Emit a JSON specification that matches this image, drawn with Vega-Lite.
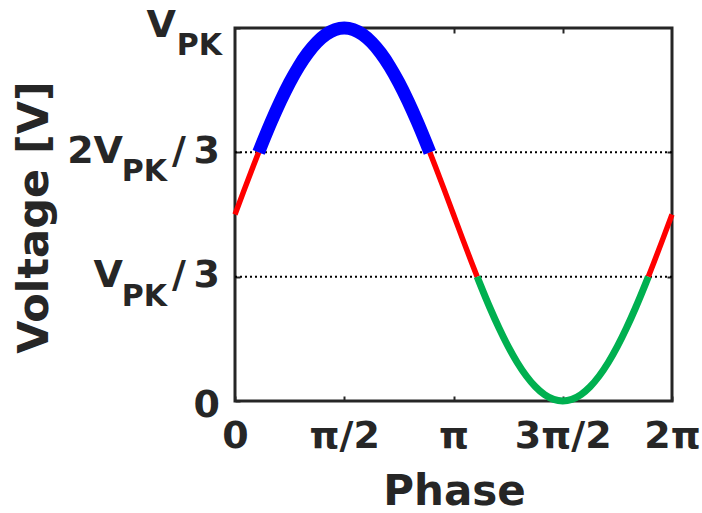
{
  "$schema": "https://vega.github.io/schema/vega-lite/v6.json",
  "width": 437,
  "height": 373,
  "autosize": {"type": "none"},
  "padding": {"left": 235, "top": 28, "right": 30, "bottom": 112},
  "background": "white",
  "config": {"view": {"stroke": "#262626", "strokeWidth": 3}, "font": "DejaVu Sans"},
  "datasets": {
    "curve": [
      {"phase": 0, "v": 0.5, "band": "mid", "seg": "r1"},
      {"phase": 7.5, "v": 0.5653, "band": "mid", "seg": "r1"},
      {"phase": 15, "v": 0.6294, "band": "mid", "seg": "r1"},
      {"phase": 19.47, "v": 0.6667, "band": "mid", "seg": "r1"},
      {"phase": 19.47, "v": 0.6667, "band": "high", "seg": "b"},
      {"phase": 22.5, "v": 0.6913, "band": "high", "seg": "b"},
      {"phase": 30, "v": 0.75, "band": "high", "seg": "b"},
      {"phase": 37.5, "v": 0.8044, "band": "high", "seg": "b"},
      {"phase": 45, "v": 0.8536, "band": "high", "seg": "b"},
      {"phase": 52.5, "v": 0.8967, "band": "high", "seg": "b"},
      {"phase": 60, "v": 0.933, "band": "high", "seg": "b"},
      {"phase": 67.5, "v": 0.9619, "band": "high", "seg": "b"},
      {"phase": 75, "v": 0.983, "band": "high", "seg": "b"},
      {"phase": 82.5, "v": 0.9957, "band": "high", "seg": "b"},
      {"phase": 90, "v": 1, "band": "high", "seg": "b"},
      {"phase": 97.5, "v": 0.9957, "band": "high", "seg": "b"},
      {"phase": 105, "v": 0.983, "band": "high", "seg": "b"},
      {"phase": 112.5, "v": 0.9619, "band": "high", "seg": "b"},
      {"phase": 120, "v": 0.933, "band": "high", "seg": "b"},
      {"phase": 127.5, "v": 0.8967, "band": "high", "seg": "b"},
      {"phase": 135, "v": 0.8536, "band": "high", "seg": "b"},
      {"phase": 142.5, "v": 0.8044, "band": "high", "seg": "b"},
      {"phase": 150, "v": 0.75, "band": "high", "seg": "b"},
      {"phase": 157.5, "v": 0.6913, "band": "high", "seg": "b"},
      {"phase": 160.53, "v": 0.6667, "band": "high", "seg": "b"},
      {"phase": 160.53, "v": 0.6667, "band": "mid", "seg": "r2"},
      {"phase": 165, "v": 0.6294, "band": "mid", "seg": "r2"},
      {"phase": 172.5, "v": 0.5653, "band": "mid", "seg": "r2"},
      {"phase": 180, "v": 0.5, "band": "mid", "seg": "r2"},
      {"phase": 187.5, "v": 0.4347, "band": "mid", "seg": "r2"},
      {"phase": 195, "v": 0.3706, "band": "mid", "seg": "r2"},
      {"phase": 199.47, "v": 0.3333, "band": "mid", "seg": "r2"},
      {"phase": 199.47, "v": 0.3333, "band": "low", "seg": "g"},
      {"phase": 202.5, "v": 0.3087, "band": "low", "seg": "g"},
      {"phase": 210, "v": 0.25, "band": "low", "seg": "g"},
      {"phase": 217.5, "v": 0.1956, "band": "low", "seg": "g"},
      {"phase": 225, "v": 0.1464, "band": "low", "seg": "g"},
      {"phase": 232.5, "v": 0.1033, "band": "low", "seg": "g"},
      {"phase": 240, "v": 0.067, "band": "low", "seg": "g"},
      {"phase": 247.5, "v": 0.0381, "band": "low", "seg": "g"},
      {"phase": 255, "v": 0.017, "band": "low", "seg": "g"},
      {"phase": 262.5, "v": 0.0043, "band": "low", "seg": "g"},
      {"phase": 270, "v": 0, "band": "low", "seg": "g"},
      {"phase": 277.5, "v": 0.0043, "band": "low", "seg": "g"},
      {"phase": 285, "v": 0.017, "band": "low", "seg": "g"},
      {"phase": 292.5, "v": 0.0381, "band": "low", "seg": "g"},
      {"phase": 300, "v": 0.067, "band": "low", "seg": "g"},
      {"phase": 307.5, "v": 0.1033, "band": "low", "seg": "g"},
      {"phase": 315, "v": 0.1464, "band": "low", "seg": "g"},
      {"phase": 322.5, "v": 0.1956, "band": "low", "seg": "g"},
      {"phase": 330, "v": 0.25, "band": "low", "seg": "g"},
      {"phase": 337.5, "v": 0.3087, "band": "low", "seg": "g"},
      {"phase": 340.53, "v": 0.3333, "band": "low", "seg": "g"},
      {"phase": 340.53, "v": 0.3333, "band": "mid", "seg": "r3"},
      {"phase": 345, "v": 0.3706, "band": "mid", "seg": "r3"},
      {"phase": 352.5, "v": 0.4347, "band": "mid", "seg": "r3"},
      {"phase": 360, "v": 0.5, "band": "mid", "seg": "r3"}
    ],
    "levels": [{"v": 0.3333}, {"v": 0.6667}],
    "ylabels": [
      {"v": 1, "kind": "peak", "main": "V", "sub": "PK", "tail": ""},
      {"v": 0.6667, "kind": "frac", "main": "2V", "sub": "PK", "tail": "/\u20093"},
      {"v": 0.3333, "kind": "frac", "main": "V", "sub": "PK", "tail": "/\u20093"},
      {"v": 0, "kind": "zero", "main": "0", "sub": "", "tail": ""}
    ]
  },
  "layer": [
    {
      "data": {"name": "levels"},
      "mark": {"type": "rule", "color": "black", "strokeWidth": 2, "strokeDash": [2, 3]},
      "encoding": {
        "y": {"field": "v", "type": "quantitative", "scale": {"domain": [0, 1], "nice": false, "zero": false}, "axis": null}
      }
    },
    {
      "data": {"name": "curve"},
      "transform": [{"filter": "datum.band == 'mid'"}],
      "mark": {"type": "line", "color": "#FF0000", "strokeWidth": 5.5, "interpolate": "monotone"},
      "encoding": {
        "x": {
          "field": "phase", "type": "quantitative",
          "scale": {"domain": [0, 360], "nice": false, "zero": false},
          "axis": {
            "orient": "bottom", "values": [0, 90, 180, 270, 360],
            "labelExpr": "datum.value == 0 ? '0' : datum.value == 90 ? 'π/2' : datum.value == 180 ? 'π' : datum.value == 270 ? '3π/2' : '2π'",
            "labelFont": "DejaVu Sans", "labelFontWeight": "bold", "labelFontSize": 38, "labelColor": "#262626",
            "labelFlush": false, "labelOverlap": false, "labelPadding": 21,
            "tickSize": -5, "tickColor": "#262626", "tickWidth": 2, "domain": false, "grid": false,
            "title": "Phase", "titleFont": "DejaVu Sans", "titleFontSize": 42, "titleFontWeight": "bold",
            "titleColor": "#262626", "titleBaseline": "alphabetic", "titleY": 103, "titleX": 219
          }
        },
        "y": {
          "field": "v", "type": "quantitative",
          "scale": {"domain": [0, 1], "nice": false, "zero": false},
          "axis": {
            "orient": "left", "values": [0, 0.3333, 0.6667, 1], "labels": false,
            "tickSize": -5, "tickColor": "#262626", "tickWidth": 2, "domain": false, "grid": false,
            "title": "Voltage [V]", "titleFont": "DejaVu Sans", "titleFontSize": 43, "titleFontWeight": "bold",
            "titleColor": "#262626", "titleAngle": 270, "titleBaseline": "alphabetic", "titleAlign": "center",
            "titleX": -188, "titleY": 189
          }
        },
        "detail": {"field": "seg"}
      }
    },
    {
      "data": {"name": "curve"},
      "transform": [{"filter": "datum.band == 'low'"}],
      "mark": {"type": "line", "color": "#00B050", "strokeWidth": 7, "interpolate": "monotone"},
      "encoding": {
        "x": {"field": "phase", "type": "quantitative", "axis": null},
        "y": {"field": "v", "type": "quantitative", "axis": null},
        "detail": {"field": "seg"}
      }
    },
    {
      "data": {"name": "curve"},
      "transform": [{"filter": "datum.band == 'high'"}],
      "mark": {"type": "line", "color": "#0000FF", "strokeWidth": 13, "interpolate": "monotone"},
      "encoding": {
        "x": {"field": "phase", "type": "quantitative", "axis": null},
        "y": {"field": "v", "type": "quantitative", "axis": null},
        "detail": {"field": "seg"}
      }
    },
    {
      "data": {"name": "curve"},
      "mark": {"type": "point", "opacity": 0},
      "encoding": {
        "x": {"field": "phase", "type": "quantitative",
          "axis": {"orient": "top", "values": [90, 180, 270], "labels": false, "title": null,
            "tickSize": -5, "tickColor": "#262626", "tickWidth": 2, "domain": false, "grid": false}},
        "y": {"field": "v", "type": "quantitative",
          "axis": {"orient": "right", "values": [0.3333, 0.6667], "labels": false, "title": null,
            "tickSize": -5, "tickColor": "#262626", "tickWidth": 2, "domain": false, "grid": false}}
      }
    },
    {
      "data": {"name": "ylabels"},
      "transform": [{"filter": "datum.kind == 'frac'"}],
      "mark": {"type": "text", "align": "right", "baseline": "alphabetic", "dx": -112, "dy": 10.5, "font": "DejaVu Sans", "fontWeight": "bold", "fontSize": 38, "color": "#262626"},
      "encoding": {
        "x": {"datum": 0, "type": "quantitative", "axis": null},
        "y": {"field": "v", "type": "quantitative", "axis": null},
        "text": {"field": "main"}
      }
    },
    {
      "data": {"name": "ylabels"},
      "transform": [{"filter": "datum.kind == 'frac'"}],
      "mark": {"type": "text", "align": "right", "baseline": "alphabetic", "dx": -68, "dy": 29, "font": "DejaVu Sans", "fontWeight": "bold", "fontSize": 30, "color": "#262626"},
      "encoding": {
        "x": {"datum": 0, "type": "quantitative", "axis": null},
        "y": {"field": "v", "type": "quantitative", "axis": null},
        "text": {"field": "sub"}
      }
    },
    {
      "data": {"name": "ylabels"},
      "transform": [{"filter": "datum.kind == 'frac'"}],
      "mark": {"type": "text", "align": "right", "baseline": "alphabetic", "dx": -15, "dy": 10.5, "font": "DejaVu Sans", "fontWeight": "bold", "fontSize": 38, "color": "#262626"},
      "encoding": {
        "x": {"datum": 0, "type": "quantitative", "axis": null},
        "y": {"field": "v", "type": "quantitative", "axis": null},
        "text": {"field": "tail"}
      }
    },
    {
      "data": {"name": "ylabels"},
      "transform": [{"filter": "datum.kind == 'peak'"}],
      "mark": {"type": "text", "align": "right", "baseline": "alphabetic", "dx": -59, "dy": 9, "font": "DejaVu Sans", "fontWeight": "bold", "fontSize": 38, "color": "#262626"},
      "encoding": {
        "x": {"datum": 0, "type": "quantitative", "axis": null},
        "y": {"field": "v", "type": "quantitative", "axis": null},
        "text": {"field": "main"}
      }
    },
    {
      "data": {"name": "ylabels"},
      "transform": [{"filter": "datum.kind == 'peak'"}],
      "mark": {"type": "text", "align": "right", "baseline": "alphabetic", "dx": -13, "dy": 27, "font": "DejaVu Sans", "fontWeight": "bold", "fontSize": 30, "color": "#262626"},
      "encoding": {
        "x": {"datum": 0, "type": "quantitative", "axis": null},
        "y": {"field": "v", "type": "quantitative", "axis": null},
        "text": {"field": "sub"}
      }
    },
    {
      "data": {"name": "ylabels"},
      "transform": [{"filter": "datum.kind == 'zero'"}],
      "mark": {"type": "text", "align": "right", "baseline": "alphabetic", "dx": -15, "dy": 16, "font": "DejaVu Sans", "fontWeight": "bold", "fontSize": 38, "color": "#262626"},
      "encoding": {
        "x": {"datum": 0, "type": "quantitative", "axis": null},
        "y": {"field": "v", "type": "quantitative", "axis": null},
        "text": {"field": "main"}
      }
    }
  ],
  "resolve": {"axis": {"x": "independent", "y": "independent"}}
}
